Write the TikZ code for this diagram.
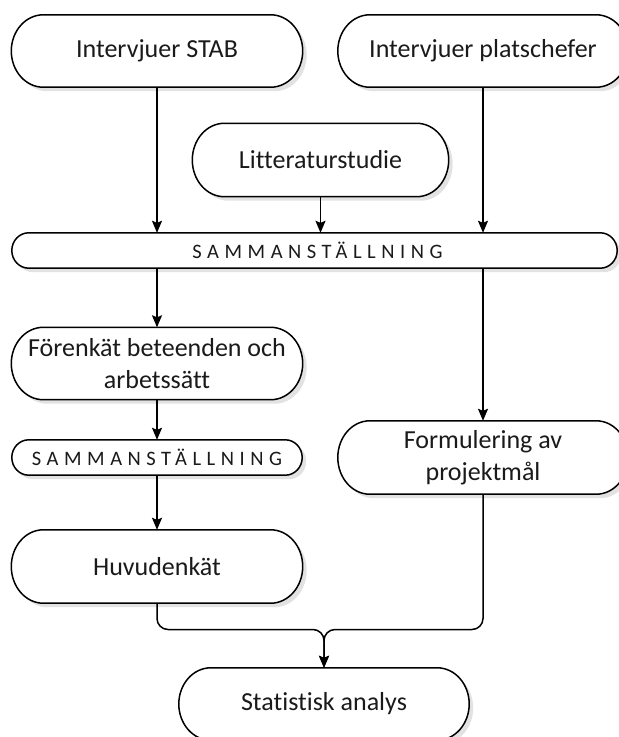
\documentclass[tikz,border=0pt]{standalone}
\usepackage{fontspec}
\setmainfont{Carlito}[Ligatures=NoCommon]
\usetikzlibrary{arrows.meta,calc,backgrounds}

\definecolor{inkcol}{HTML}{1A1A1A}
\definecolor{shadecol}{HTML}{E2E2E2}

% Outline with elliptic end caps plus a soft offset shadow, drawn behind node #1;
% #2 is how far the rounded ends reach in from the sides.
\newcommand\capoutline[2]{%
  \begin{pgfonlayer}{background}
    \fill[shadecol] let \p1=(#1.north west), \p2=(#1.south east) in
      (\x1+#2+4pt,\y1-4pt) -- (\x2-#2+4pt,\y1-4pt)
      arc[start angle=90,end angle=-90,x radius=#2,y radius={(\y1-\y2)/2}]
      -- (\x1+#2+4pt,\y2-4pt)
      arc[start angle=270,end angle=90,x radius=#2,y radius={(\y1-\y2)/2}] -- cycle;
    \draw[boxline] let \p1=(#1.north west), \p2=(#1.south east) in
      (\x1+#2,\y1) -- (\x2-#2,\y1)
      arc[start angle=90,end angle=-90,x radius=#2,y radius={(\y1-\y2)/2}]
      -- (\x1+#2,\y2)
      arc[start angle=270,end angle=90,x radius=#2,y radius={(\y1-\y2)/2}] -- cycle;
  \end{pgfonlayer}}

\tikzset{
  boxline/.style={draw=black, fill=white, line width=1.5pt},
  stepnode/.style={shape=rectangle, inner sep=0pt, minimum height=72pt,
    align=center, text=inkcol, font=\fontsize{26}{32}\selectfont},
  barnode/.style={shape=rectangle, inner sep=0pt, minimum height=35pt,
    text=inkcol, font=\fontsize{20.5}{24}\selectfont\addfontfeatures{LetterSpace=27}},
  flow/.style={line width=1.5pt, draw=black,
    -{Stealth[length=12pt,width=10pt,inset=2pt]}},
  joinflow/.style={flow, rounded corners=11pt}
}

\begin{document}
\begin{tikzpicture}[x=1pt,y=-1pt]
  \useasboundingbox (0,0) rectangle (619,737);

  % steps
  \node[stepnode, minimum width=291pt] (stab) at (157,51) {Intervjuer STAB};
  \node[stepnode, minimum width=290pt] (plat) at (483,51) {Intervjuer platschefer};
  \node[stepnode, minimum width=256pt, minimum height=73pt] (lit) at (320.5,160) {Litteraturstudie};
  \node[barnode, minimum width=605pt] (sum1) at (314.5,250.5) {\hspace*{6pt}SAMMANSTÄLLNING};
  \node[stepnode, minimum width=291pt] (pre) at (157,363.5) {Förenkät beteenden och\\arbetssätt};
  \node[barnode, minimum width=290pt] (sum2) at (157,457.5) {SAMMANSTÄLLNING};
  \node[stepnode, minimum width=291pt, minimum height=73pt] (main) at (157,566.5) {Huvudenkät};
  \node[stepnode, minimum width=290pt, minimum height=73pt] (goal) at (483,457.5) {Formulering av\\projektmål};
  \node[stepnode, minimum width=290pt] (stat) at (324,704) {Statistisk analys};

  % outlines behind the texts
  \capoutline{stab}{32pt}
  \capoutline{plat}{32pt}
  \capoutline{lit}{32pt}
  \capoutline{sum1}{17pt}
  \capoutline{pre}{32pt}
  \capoutline{sum2}{17pt}
  \capoutline{main}{32pt}
  \capoutline{goal}{32pt}
  \capoutline{stat}{32pt}

  % connectors
  \draw[flow] (stab.south) -- (stab.south |- sum1.north);
  \draw[flow] (lit.south) -- (lit.south |- sum1.north);
  \draw[flow] (plat.south) -- (plat.south |- sum1.north);
  \draw[flow] (sum1.south -| pre.north) -- (pre.north);
  \draw[flow] (sum1.south -| goal.north) -- (goal.north);
  \draw[flow] (pre.south) -- (sum2.north);
  \draw[flow] (sum2.south) -- (main.north);

  \coordinate (join) at (324,629.5);
  \draw[joinflow] (main.south) |- (join) -- (stat.north);
  \draw[joinflow] (goal.south) |- (join) -- (stat.north);
\end{tikzpicture}
\end{document}
